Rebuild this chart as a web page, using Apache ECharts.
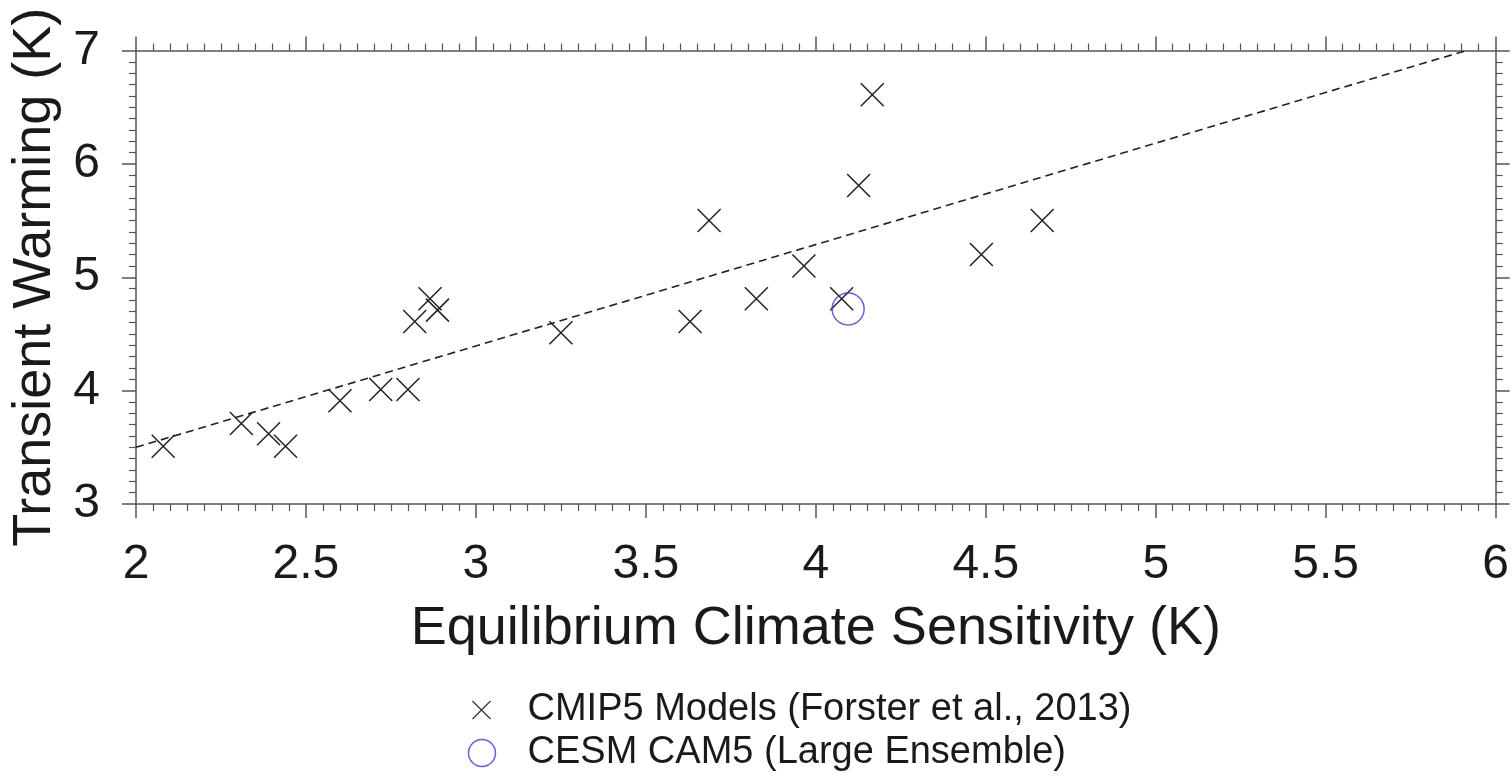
<!DOCTYPE html>
<html>
<head>
<meta charset="utf-8">
<script src="https://cdn.jsdelivr.net/npm/echarts@6/dist/echarts.min.js"></script>
<style>html,body{margin:0;padding:0;background:#fff;}#c{width:1512px;height:776px;}</style>
</head>
<body>
<div id="c"></div>
<script>
// Equilibrium Climate Sensitivity (K)
const cmip5ECS = [2.08, 2.31, 2.39, 2.44, 2.60, 2.72, 2.80, 2.82, 2.865, 2.887, 3.25, 3.63, 3.825, 3.965, 4.076, 4.487, 4.166, 4.126, 3.686, 4.666];
// Transient Warming (K)
const cmip5TW  = [3.51, 3.71, 3.62, 3.51, 3.91, 4.01, 4.01, 4.61, 4.81, 4.71, 4.51, 4.61, 4.81, 5.10, 4.81, 5.20, 6.61, 5.81, 5.50, 5.50];
const cesmECS = [4.095];
const cesmTW = [4.72];
const fitX = [2.0, 5.914];
const fitY = [3.5, 7.0];
const xTicks = [2, 2.5, 3, 3.5, 4, 4.5, 5, 5.5, 6];
const yTicks = [3, 4, 5, 6, 7];
const seriesNames = ['CMIP5 Models (Forster et al., 2013)', 'CESM CAM5 (Large Ensemble)'];

const FONT = '"Liberation Sans", Arial, Helvetica, sans-serif';
const crossPath = 'path://M0,0L10,10M10,0L0,10';
const axisColor = '#555';

function axisCommon(extra) {
  return Object.assign({
    type: 'value',
    axisLine: { show: true, onZero: false, lineStyle: { color: axisColor, width: 1.5 } },
    axisTick: { show: true, inside: false, length: 14, lineStyle: { color: axisColor, width: 1.5 } },
    minorTick: { show: true, splitNumber: 10, length: 7, lineStyle: { color: axisColor, width: 1.2 } },
    splitLine: { show: false },
    minorSplitLine: { show: false }
  }, extra);
}

const chart = echarts.init(document.getElementById('c'), null, { renderer: 'canvas' });
chart.setOption({
  animation: false,
  backgroundColor: '#fff',
  textStyle: { fontFamily: FONT },
  grid: { left: 136, right: 16, top: 50.5, bottom: 272, containLabel: false },
  xAxis: [
    axisCommon({
      position: 'bottom', min: xTicks[0], max: xTicks[xTicks.length - 1], interval: 0.5,
      name: 'Equilibrium Climate Sensitivity (K)', nameLocation: 'middle', nameGap: 98,
      nameTextStyle: { fontSize: 54, color: '#1a1a1a', fontFamily: FONT },
      axisLabel: { fontSize: 48, color: '#1a1a1a', margin: 37, fontFamily: FONT,
        formatter: v => String(v) }
    }),
    axisCommon({
      position: 'top', min: xTicks[0], max: xTicks[xTicks.length - 1], interval: 0.5,
      axisLabel: { show: false }
    })
  ],
  yAxis: [
    axisCommon({
      position: 'left', min: yTicks[0], max: yTicks[yTicks.length - 1], interval: 1,
      name: 'Transient Warming (K)', nameLocation: 'middle', nameGap: 70, nameRotate: 90,
      nameTextStyle: { fontSize: 54, color: '#1a1a1a', fontFamily: FONT },
      axisLabel: { fontSize: 48, color: '#1a1a1a', margin: 36, fontFamily: FONT }
    }),
    axisCommon({
      position: 'right', min: yTicks[0], max: yTicks[yTicks.length - 1], interval: 1,
      axisLabel: { show: false }
    })
  ],
  legend: [
    {
      data: [{ name: seriesNames[0], icon: crossPath }],
      orient: 'vertical', left: 465, top: 686,
      itemWidth: 18, itemHeight: 18,
      textStyle: { fontSize: 38, color: '#1a1a1a', fontFamily: FONT, padding: [0, 0, 0, 32] },
      itemStyle: { color: 'none', borderColor: '#333', borderWidth: 1.2 },
      selectedMode: false
    },
    {
      data: [{ name: seriesNames[1], icon: 'circle' }],
      orient: 'vertical', left: 461, top: 729,
      itemWidth: 27, itemHeight: 27,
      textStyle: { fontSize: 38, color: '#1a1a1a', fontFamily: FONT, padding: [0, 0, 0, 27] },
      itemStyle: { color: 'none', borderColor: '#3a3ad0', borderWidth: 1.5 },
      selectedMode: false
    }
  ],
  series: [
    {
      type: 'line', name: 'fit', xAxisIndex: 0, yAxisIndex: 0,
      data: fitX.map((x, i) => [x, fitY[i]]),
      showSymbol: false, symbol: 'none', silent: true,
      lineStyle: { color: '#222', width: 1.6, type: [8, 5] },
      clip: true, z: 1
    },
    {
      type: 'scatter', name: seriesNames[0], xAxisIndex: 0, yAxisIndex: 0,
      data: cmip5ECS.map((x, i) => [x, cmip5TW[i]]),
      symbol: crossPath, symbolSize: 23,
      itemStyle: { color: 'none', borderColor: '#222', borderWidth: 1.5, opacity: 1 },
      z: 2
    },
    {
      type: 'scatter', name: seriesNames[1], xAxisIndex: 0, yAxisIndex: 0,
      data: cesmECS.map((x, i) => [x, cesmTW[i]]),
      symbol: 'circle', symbolSize: 32,
      itemStyle: { color: 'none', borderColor: '#3a3ad0', borderWidth: 1.5 },
      z: 3
    }
  ]
});
</script>
</body>
</html>
